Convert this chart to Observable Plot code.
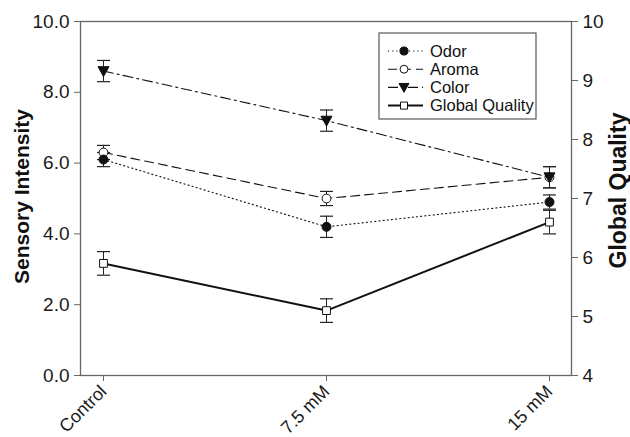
<!DOCTYPE html>
<html>
<head>
<meta charset="utf-8">
<script src="https://cdn.jsdelivr.net/npm/d3@7"></script>
<script src="https://cdn.jsdelivr.net/npm/@observablehq/plot@0.6"></script>
<style>
  html, body { margin: 0; padding: 0; background: #fff; }
  #chart { position: relative; width: 630px; height: 437px; }
</style>
</head>
<body>
<div id="chart"></div>
<script>
// ---- data ----
const categories = ["Control", "7.5 mM", "15 mM"];
const seriesNames = ["Odor", "Aroma", "Color", "Global Quality"];
const odor = [6.1, 4.2, 4.9];
const odorErr = [0.2, 0.3, 0.2];
const aroma = [6.3, 5.0, 5.6];
const aromaErr = [0.2, 0.2, 0.3];
const color = [8.6, 7.2, 5.6];
const colorErr = [0.3, 0.3, 0.3];
const globalQuality = [5.9, 5.1, 6.6];       // right axis units
const globalQualityErr = [0.2, 0.2, 0.2];
const leftTicks = [0, 2, 4, 6, 8, 10];
const rightTicks = [4, 5, 6, 7, 8, 9, 10];
const leftDomain = [0, 10];
const rightDomain = [4, 10];

// map right-axis value into left-axis units
const toLeft = v => (v - rightDomain[0]) / (rightDomain[1] - rightDomain[0]) * (leftDomain[1] - leftDomain[0]) + leftDomain[0];
const toLeftErr = e => e / (rightDomain[1] - rightDomain[0]) * (leftDomain[1] - leftDomain[0]);
const toRight = v => rightDomain[0] + (v - leftDomain[0]) / (leftDomain[1] - leftDomain[0]) * (rightDomain[1] - rightDomain[0]);

const seriesValues = [odor, aroma, color, globalQuality.map(toLeft)];
const seriesErrs = [odorErr, aromaErr, colorErr, globalQualityErr.map(toLeftErr)];

const rows = [];
seriesNames.forEach((s, i) => categories.forEach((c, j) => {
  rows.push({series: s, cat: c, v: seriesValues[i][j], e: seriesErrs[i][j]});
}));

// ---- symbols ----
const capSym = {draw(ctx, size) { const w = Math.sqrt(size / Math.PI); ctx.moveTo(-w, 0); ctx.lineTo(w, 0); }};
const triDown = {draw(ctx, size) { const r = Math.sqrt(size / Math.PI); ctx.moveTo(-r, -r * 0.8); ctx.lineTo(r, -r * 0.8); ctx.lineTo(0, r * 1.0); ctx.closePath(); }};
const squareSym = {draw(ctx, size) { const r = Math.sqrt(size / Math.PI); ctx.rect(-r, -r, 2 * r, 2 * r); }};
const circleSym = {draw(ctx, size) { const r = Math.sqrt(size / Math.PI); ctx.moveTo(r, 0); ctx.arc(0, 0, r, 0, 2 * Math.PI); }};

// ---- styles ----
const styles = {
  "Odor":           {dash: "1.2,3", width: 1.1, symbol: circleSym, r: 4.5, fill: "#111"},
  "Aroma":          {dash: "9,5", width: 1.1, symbol: circleSym, r: 4.4, fill: "#fff"},
  "Color":          {dash: "10,4,2,4", width: 1.1, symbol: triDown, r: 5.5, fill: "#111"},
  "Global Quality": {dash: null, width: 2, symbol: squareSym, r: 3.9, fill: "#fff"}
};

const FONT = "Arial, 'Liberation Sans', Helvetica, sans-serif";
const AX = "#666";

const marks = [
  Plot.frame({stroke: AX, strokeWidth: 1.3})
];
seriesNames.forEach(s => {
  const st = styles[s];
  const d = rows.filter(r => r.series === s);
  marks.push(Plot.line(d, {x: "cat", y: "v", stroke: "#111", strokeWidth: st.width, strokeDasharray: st.dash}));
});
marks.push(Plot.ruleX(rows, {x: "cat", y1: d => d.v - d.e, y2: d => d.v + d.e, stroke: "#222", strokeWidth: 1}));
marks.push(Plot.dot(rows, {x: "cat", y: d => d.v + d.e, symbol: capSym, r: 6.5, stroke: "#222", strokeWidth: 1.2}));
marks.push(Plot.dot(rows, {x: "cat", y: d => d.v - d.e, symbol: capSym, r: 6.5, stroke: "#222", strokeWidth: 1.2}));
["Global Quality", "Aroma", "Odor", "Color"].forEach(s => {
  const st = styles[s];
  const d = rows.filter(r => r.series === s);
  marks.push(Plot.dot(d, {x: "cat", y: "v", symbol: st.symbol, r: st.r, fill: st.fill, stroke: "#111", strokeWidth: 1}));
});

marks.push(
  Plot.axisY(leftTicks, {anchor: "left", tickSize: 6, tickPadding: 5, tickFormat: d => d.toFixed(1), label: null, fontSize: 19, stroke: AX}),
  Plot.axisY(rightTicks.map(toLeft), {anchor: "right", tickSize: 6, tickPadding: 5, tickFormat: d => String(Math.round(toRight(d))), label: null, fontSize: 19, stroke: AX}),
  Plot.axisX({anchor: "bottom", tickRotate: -45, tickSize: 6, tickPadding: 7, label: null, fontSize: 18, stroke: AX}),
  Plot.text(["Sensory Intensity"], {frameAnchor: "left", textAnchor: "middle", dx: -58, dy: -2, rotate: -90, fontSize: 21, fontWeight: "bold", fill: "#111"}),
  Plot.text(["Global Quality"], {frameAnchor: "right", textAnchor: "middle", dx: 47, dy: -8, rotate: -90, fontSize: 23, fontWeight: "bold", fill: "#111"})
);

const chart = Plot.plot({
  width: 630,
  height: 437,
  marginLeft: 80,
  marginRight: 59,
  marginTop: 21,
  marginBottom: 62,
  style: {fontFamily: FONT, color: "#1a1a1a", background: "#fff", overflow: "visible"},
  x: {type: "point", domain: categories, padding: 0.1},
  y: {domain: leftDomain},
  marks
});

document.getElementById("chart").appendChild(chart);

// ---- legend (drawn into the same svg) ----
const svg = d3.select(chart);
const lg = svg.append("g").attr("font-family", FONT).attr("text-anchor", "start");
const box = {x: 379, y: 33, w: 157, h: 86};
lg.append("rect").attr("x", box.x).attr("y", box.y).attr("width", box.w).attr("height", box.h)
  .attr("fill", "#fff").attr("stroke", AX).attr("stroke-width", 1.3);
seriesNames.forEach((s, i) => {
  const st = styles[s];
  const y = 51 + i * 18.2;
  lg.append("line").attr("x1", 388).attr("x2", 423).attr("y1", y).attr("y2", y)
    .attr("stroke", "#111").attr("stroke-width", st.width)
    .attr("stroke-dasharray", st.dash ? st.dash : null);
  lg.append("path").attr("transform", `translate(404,${y})`)
    .attr("d", d3.symbol(st.symbol, Math.PI * (st.r * 0.9) ** 2)())
    .attr("fill", st.fill).attr("stroke", "#111").attr("stroke-width", 1);
  lg.append("text").attr("x", 430).attr("y", y).attr("dy", "0.35em").attr("text-anchor", "start")
    .attr("font-size", 16.5).attr("fill", "#111").text(s);
});
</script>
</body>
</html>
